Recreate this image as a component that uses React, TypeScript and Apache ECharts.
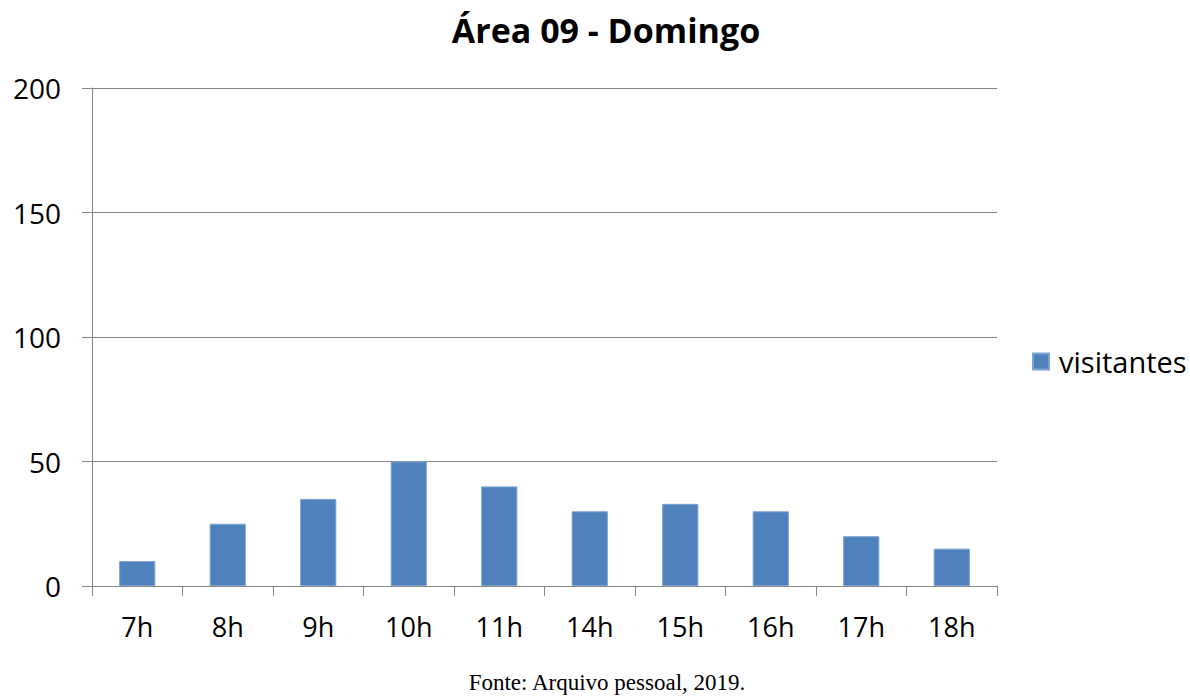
import React, { useEffect, useRef } from "react";
import * as echarts from "echarts";

const categories = ["7h", "8h", "9h", "10h", "11h", "14h", "15h", "16h", "17h", "18h"];
const visitantes = [10, 25, 35, 50, 40, 30, 33, 30, 20, 15];
const seriesName = "visitantes";
const titleText = "Área 09 - Domingo";
const sourceText = "Fonte: Arquivo pessoal, 2019.";

export default function App() {
  const ref = useRef<HTMLDivElement>(null);
  useEffect(() => {
    if (!ref.current) return;
    const chart = echarts.init(ref.current, null, { renderer: "svg" });
    const font = "'Open Sans', 'Noto Sans', sans-serif";
    chart.setOption({
      animation: false,
      backgroundColor: "#ffffff",
      title: [
        {
          text: titleText,
          left: 601,
          textAlign: "center",
          top: 8,
          textStyle: { fontFamily: font, fontSize: 34, fontWeight: "bold", color: "#000" },
        },
        {
          text: sourceText,
          left: 602,
          textAlign: "center",
          top: 666,
          textStyle: { fontFamily: "'Liberation Serif', 'DejaVu Serif', serif", fontSize: 23, fontWeight: "normal", color: "#000" },
        },
      ],
      legend: {
        data: [seriesName],
        left: 1027,
        top: 342,
        orient: "vertical",
        icon: "rect",
        itemWidth: 16,
        itemHeight: 16,
        itemGap: 10,
        textStyle: { fontFamily: font, fontSize: 29, color: "#000", padding: [0, 0, 0, 5] },
      },
      grid: { left: 92, right: 193, top: 88, bottom: 111, containLabel: false },
      xAxis: {
        type: "category",
        data: categories,
        axisLine: { show: true, lineStyle: { color: "#868686", width: 1 } },
        axisTick: { show: true, length: 10, lineStyle: { color: "#868686" } },
        axisLabel: { margin: 27, fontFamily: font, fontSize: 27, color: "#000" },
      },
      yAxis: {
        type: "value",
        min: 0,
        max: 200,
        interval: 50,
        axisLine: { show: true, lineStyle: { color: "#868686", width: 1 } },
        axisTick: { show: true, length: 10, lineStyle: { color: "#868686" } },
        splitLine: { show: true, lineStyle: { color: "#868686", width: 1 } },
        axisLabel: { margin: 31, fontFamily: font, fontSize: 28, color: "#000" },
      },
      series: [
        {
          name: seriesName,
          type: "bar",
          data: visitantes,
          barWidth: "40%",
          itemStyle: { color: "#4F81BD", borderColor: "#7DA3D1", borderWidth: 1 },
        },
      ],
    });
    return () => chart.dispose();
  }, []);
  return (
    <div
      ref={ref}
      style={{ position: "fixed", left: 0, top: 0, width: 1190, height: 697, background: "#fff" }}
    />
  );
}
